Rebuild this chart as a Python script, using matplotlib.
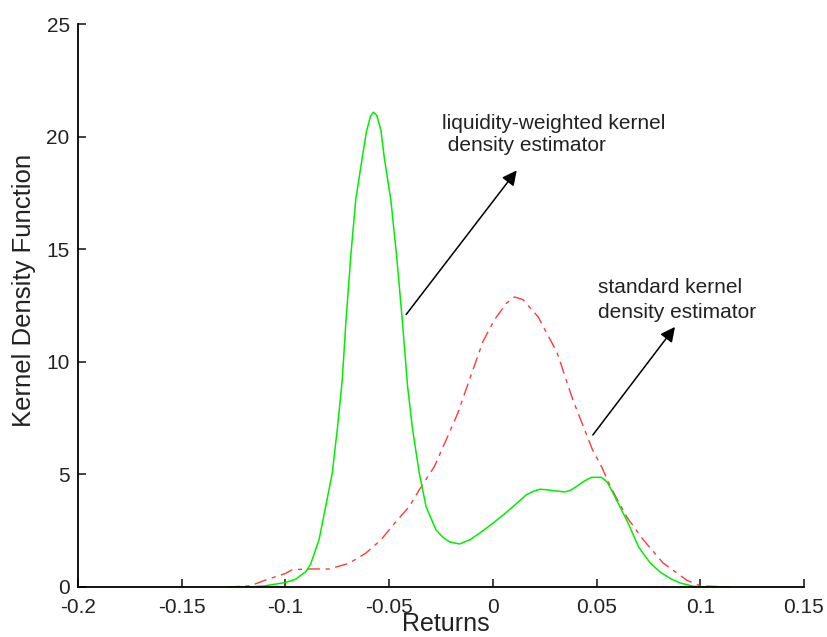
import numpy as np
import matplotlib.pyplot as plt

plt.rcParams['font.family'] = ['Liberation Sans', 'DejaVu Sans']
plt.rcParams['lines.scale_dashes'] = False

# liquidity-weighted kernel density (green, solid)
x_liq = [-0.128, -0.117, -0.11, -0.1, -0.095, -0.09, -0.0879, -0.0838, -0.0806, -0.0774,
         -0.075, -0.0726, -0.0709, -0.0685, -0.0661, -0.0629, -0.061, -0.059, -0.0576,
         -0.056, -0.054, -0.0524, -0.0492, -0.0464, -0.0438, -0.0411, -0.0387, -0.0355,
         -0.0322, -0.0274, -0.024, -0.021, -0.0161, -0.011, -0.0064, 0.0, 0.005, 0.0097,
         0.0161, 0.0195, 0.0226, 0.026, 0.029, 0.0347, 0.0375, 0.0403, 0.044, 0.0476,
         0.0524, 0.0552, 0.058, 0.0645, 0.0702, 0.0724, 0.076, 0.0806, 0.0855, 0.0903,
         0.0967, 0.105, 0.114]
y_liq = [0.0, 0.0, 0.05, 0.2, 0.35, 0.7, 1.0, 2.1, 3.57, 5.07,
         7.0, 9.2, 11.7, 14.7, 17.2, 19.1, 20.2, 20.9, 21.08,
         20.95, 20.3, 19.1, 17.2, 14.7, 12.0, 8.9, 7.0, 5.07,
         3.57, 2.53, 2.2, 2.01, 1.91, 2.1, 2.39, 2.83, 3.2, 3.57,
         4.09, 4.25, 4.34, 4.32, 4.28, 4.22, 4.3, 4.46, 4.7, 4.87,
         4.87, 4.65, 4.16, 2.98, 1.79, 1.5, 1.05, 0.67, 0.38, 0.18,
         0.03, 0.0, 0.0]

# standard kernel density (red, dashed)
x_std = [-0.128, -0.117, -0.1096, -0.1, -0.0968, -0.090, -0.079, -0.0694, -0.0613, -0.054,
         -0.046, -0.0403, -0.0355, -0.0282, -0.0218, -0.0169, -0.0113, -0.0048, 0.0008,
         0.0065, 0.0105, 0.0145, 0.0218, 0.031, 0.0386, 0.045, 0.048, 0.0526, 0.057,
         0.0646, 0.0725, 0.082, 0.0935, 0.1, 0.114]
y_std = [0.0, 0.05, 0.31, 0.6, 0.76, 0.8, 0.8, 1.05, 1.5, 2.09,
         2.98, 3.57, 4.31, 5.35, 6.68, 7.72, 9.2, 10.9, 11.87,
         12.6, 12.88, 12.76, 12.0, 10.4, 8.3, 6.8, 6.1, 5.3, 4.4,
         3.1, 2.1, 1.07, 0.3, 0.05, 0.0]

xticks = [-0.2, -0.15, -0.1, -0.05, 0, 0.05, 0.1, 0.15]
xtick_labels = ['-0.2', '-0.15', '-0.1', '-0.05', '0', '0.05', '0.1', '0.15']
yticks = [0, 5, 10, 15, 20, 25]

fig = plt.figure(figsize=(8.28, 6.37), dpi=100)
ax = fig.add_axes([78 / 828, 50 / 637, 726 / 828, 563 / 637])

ax.plot(x_std, y_std, color='#ff3a3a', lw=1.0, dashes=(9, 4, 3, 4))
ax.plot(x_liq, y_liq, color='#00ee00', lw=1.1)

ax.set_xlim(-0.2, 0.15)
ax.set_ylim(0, 25)
ax.set_xticks(xticks)
ax.set_xticklabels(xtick_labels)
ax.set_yticks(yticks)
ax.tick_params(direction='in', length=6, width=1.2, labelsize=15, colors='#222222')
ax.tick_params(axis='x', pad=8)
ax.tick_params(axis='y', pad=6)
for s in ['top', 'right']:
    ax.spines[s].set_visible(False)
for s in ['left', 'bottom']:
    ax.spines[s].set_linewidth(1.3)

ax.set_xlabel('Returns', fontsize=18, color='#222222')
ax.set_ylabel('Kernel Density Function', fontsize=18.5, color='#222222')
ax.xaxis.set_label_coords(0.507, -0.045)
ax.yaxis.set_label_coords(-0.058, 0.526)

arrow = dict(arrowstyle='-|>', color='k', lw=1.1, mutation_scale=22, shrinkA=0, shrinkB=0)
ax.annotate('', xy=(0.0115, 18.5), xytext=(-0.0418, 12.1), arrowprops=arrow)
ax.annotate('', xy=(0.0878, 11.55), xytext=(0.0482, 6.75), arrowprops=arrow)

ax.text(-0.0244, 20.6, 'liquidity-weighted kernel', fontsize=15, va='center', color='#222222')
ax.text(-0.0244, 19.6, ' density estimator', fontsize=15, va='center', color='#222222')
ax.text(0.0506, 13.3, 'standard kernel', fontsize=15, va='center', color='#222222')
ax.text(0.0506, 12.2, 'density estimator', fontsize=15, va='center', color='#222222')

fig.savefig('out.png', dpi=100)
